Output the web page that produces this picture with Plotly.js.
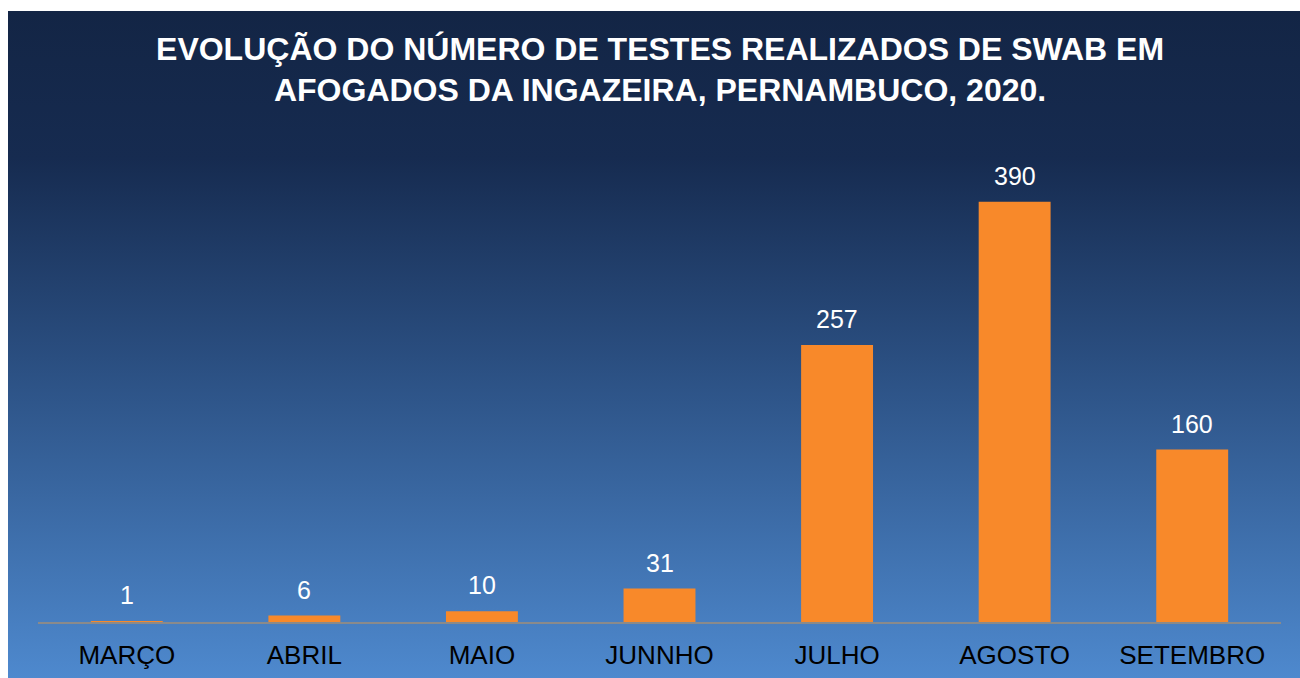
<!DOCTYPE html>
<html>
<head>
<meta charset="utf-8">
<script src="https://cdn.plot.ly/plotly-3.0.1.min.js"></script>
<style>
  html, body { margin: 0; padding: 0; background: #ffffff; }
  #chart {
    position: absolute; left: 8px; top: 11px; width: 1292px; height: 667px;
    background: linear-gradient(to bottom, #132545 0%, #162b50 22%, #2a4e80 52%, #4e89ce 100%);
  }
</style>
</head>
<body>
<div id="chart"></div>
<script>
const categories = ["MARÇO", "ABRIL", "MAIO", "JUNNHO", "JULHO", "AGOSTO", "SETEMBRO"];
const testes = [1, 6, 10, 31, 257, 390, 160];
const chartTitle = "EVOLUÇÃO DO NÚMERO DE TESTES REALIZADOS DE SWAB EM<br>AFOGADOS DA INGAZEIRA, PERNAMBUCO, 2020.";

const trace = {
  type: "bar",
  x: categories,
  y: testes,
  marker: { color: "#f8892a", line: { width: 0 } },
  hoverinfo: "x+y"
};

const annotations = categories.map((c, i) => ({
  x: c, y: testes[i], xref: "x", yref: "y",
  text: String(testes[i]), showarrow: false,
  yanchor: "bottom", yshift: 10,
  font: { family: "Liberation Sans, Arial, sans-serif", size: 25, color: "#ffffff" }
}));

const layout = {
  width: 1292, height: 667,
  paper_bgcolor: "rgba(0,0,0,0)",
  plot_bgcolor: "rgba(0,0,0,0)",
  margin: { l: 30, r: 19, t: 180, b: 56 },
  title: {
    text: "<b>" + chartTitle + "</b>",
    x: 0.5047, xanchor: "center",
    y: 0.927, yanchor: "middle", yref: "container",
    font: { family: "Liberation Sans, Arial, sans-serif", size: 32, color: "#ffffff" }
  },
  bargap: 0.595,
  showlegend: false,
  xaxis: {
    type: "category",
    showline: true, linecolor: "#8a8a8a", linewidth: 2,
    showgrid: false, zeroline: false, ticks: "",
    tickfont: { family: "Liberation Sans, Arial, sans-serif", size: 26, color: "#000000" },
    ticklabelstandoff: 9
  },
  yaxis: {
    range: [0, 400], visible: false, showgrid: false, zeroline: false, fixedrange: true
  },
  annotations: annotations
};

Plotly.newPlot("chart", [trace], layout, { displayModeBar: false, staticPlot: true });
</script>
</body>
</html>
